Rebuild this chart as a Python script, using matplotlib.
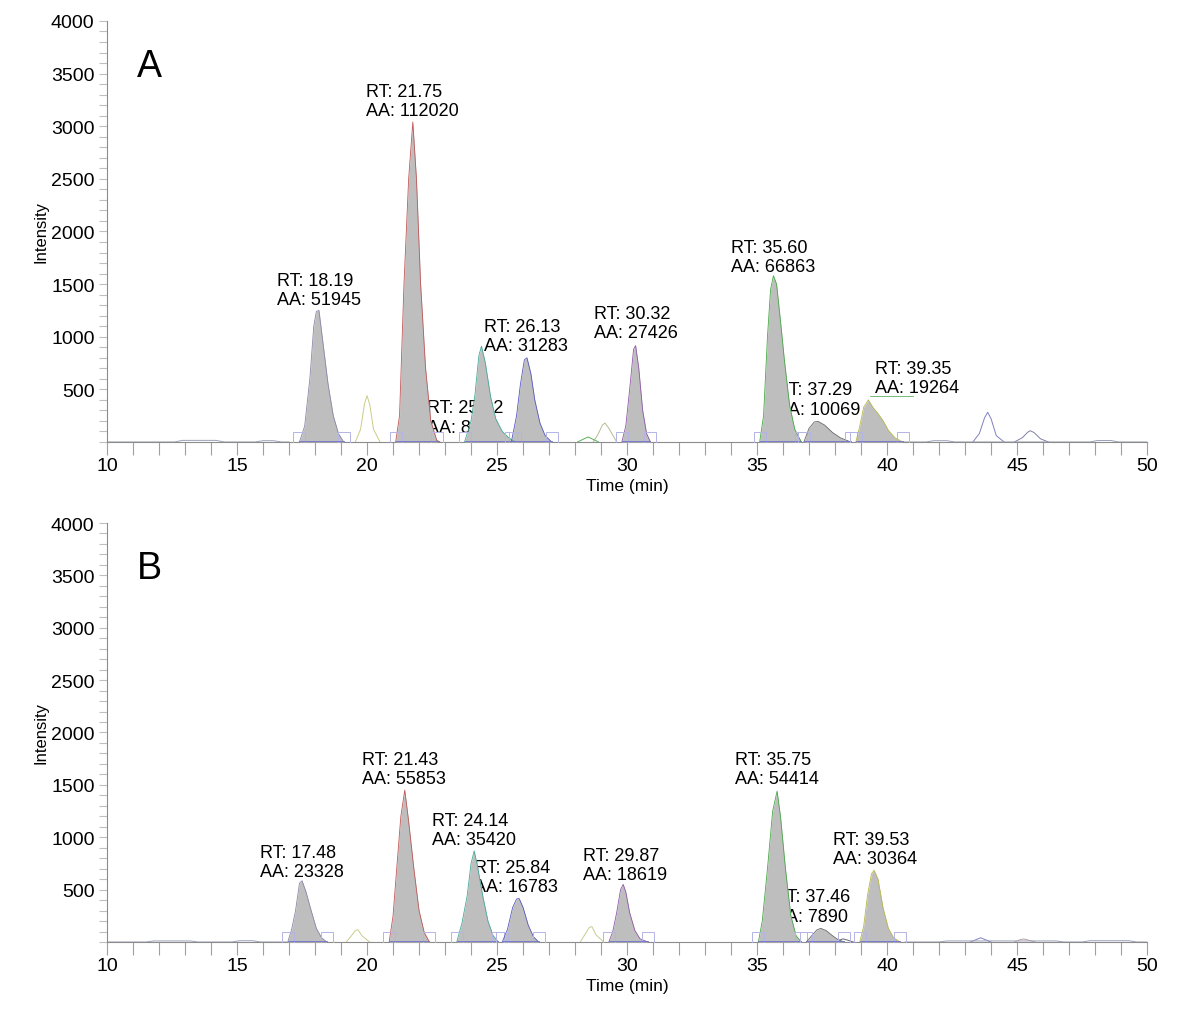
import matplotlib
matplotlib.use("Agg")
import matplotlib.pyplot as plt
from matplotlib.ticker import MultipleLocator, FixedLocator

plt.rcParams['font.family'] = ['Liberation Sans', 'DejaVu Sans']

# ---- panel A : integrated (filled) peaks -------------------------------
a_peak_t = [
    [17.4, 17.6, 17.8, 17.95, 18.05, 18.15, 18.3, 18.5, 18.7, 18.9, 19.1],
    [21.1, 21.25, 21.42, 21.6, 21.76, 21.9, 22.06, 22.25, 22.45, 22.7],
    [23.75, 24.0, 24.15, 24.3, 24.4, 24.55, 24.75, 24.95, 25.2, 25.45, 25.7],
    [25.55, 25.75, 25.9, 26.05, 26.15, 26.3, 26.45, 26.65, 26.85, 27.1],
    [29.8, 29.95, 30.1, 30.25, 30.33, 30.45, 30.6, 30.75, 30.9],
    [35.1, 35.25, 35.4, 35.52, 35.63, 35.75, 35.9, 36.05, 36.25, 36.45, 36.7],
    [36.8, 37.0, 37.2, 37.35, 37.6, 37.9, 38.2, 38.6],
    [38.8, 38.95, 39.1, 39.28, 39.45, 39.65, 39.85, 40.05, 40.3, 40.6],
]
a_peak_i = [
    [0, 150, 600, 1100, 1240, 1250, 950, 550, 250, 80, 0],
    [0, 250, 1500, 2500, 3040, 2500, 1500, 700, 200, 0],
    [0, 200, 450, 820, 910, 750, 430, 220, 100, 40, 0],
    [0, 250, 550, 780, 800, 650, 400, 180, 60, 0],
    [0, 150, 500, 880, 915, 700, 300, 80, 0],
    [0, 250, 1000, 1450, 1580, 1500, 1150, 780, 350, 120, 0],
    [0, 130, 190, 195, 160, 90, 40, 0],
    [0, 150, 330, 400, 330, 270, 200, 110, 40, 0],
]
a_peak_col = ['#8888aa', '#c05858', '#48a898', '#5858c0', '#9058a8',
              '#48a848', '#686868', '#b8b848']
a_labels = ['RT: 18.19\nAA: 51945', 'RT: 21.75\nAA: 112020',
            'RT: 25.02\nAA: 8421', 'RT: 26.13\nAA: 31283',
            'RT: 30.32\nAA: 27426', 'RT: 35.60\nAA: 66863',
            'RT: 37.29\nAA: 10069', 'RT: 39.35\nAA: 19264']
a_label_t = [16.54, 19.96, 22.31, 24.50, 28.73, 34.00, 35.73, 39.54]
a_label_i = [1444, 3240, 233, 1007, 1131, 1758, 404, 608]

# ---- panel A : other traces (not integrated) ---------------------------
a_trace_t = [
    [19.55, 19.75, 19.9, 20.0, 20.1, 20.25, 20.5],
    [28.7, 28.9, 29.05, 29.15, 29.3, 29.6],
    [35.8, 35.95, 36.1, 36.2, 36.35, 36.7],
    [21.5, 21.75, 21.95, 22.06, 22.2, 22.45, 22.8],
    [28.1, 28.35, 28.5, 28.65, 28.9],
    [43.3, 43.55, 43.75, 43.87, 44.0, 44.2, 44.5],
    [44.9, 45.2, 45.4, 45.5, 45.65, 45.9, 46.2],
    [10.0, 12.6, 12.9, 14.2, 14.5, 15.7, 16.0, 16.4, 16.7, 17.0],
    [40.6, 41.5, 41.8, 42.3, 42.6, 47.8, 48.1, 48.6, 48.9, 50.0],
]
a_trace_i = [
    [0, 120, 360, 440, 360, 120, 0],
    [0, 80, 160, 180, 130, 0],
    [0, 90, 190, 210, 140, 0],
    [0, 60, 130, 165, 120, 40, 0],
    [0, 30, 47, 30, 0],
    [0, 80, 230, 282, 220, 60, 0],
    [0, 40, 90, 107, 90, 30, 0],
    [0, 0, 15, 15, 0, 0, 12, 12, 0, 0],
    [0, 0, 12, 12, 0, 0, 14, 14, 0, 0],
]
a_trace_col = ['#cccc88', '#b8bc90', '#9aa860', '#606060', '#58b058',
               '#8080c0', '#8080a8', '#9aa0b8', '#9aa0b8']
a_conn_t = [39.35, 41.0]
a_conn_i = [440, 440]

# ---- panel B : integrated (filled) peaks -------------------------------
b_peak_t = [
    [16.95, 17.1, 17.25, 17.4, 17.5, 17.65, 17.85, 18.05, 18.25, 18.45],
    [20.85, 21.0, 21.15, 21.3, 21.45, 21.6, 21.8, 22.0, 22.2, 22.4],
    [23.45, 23.65, 23.85, 24.0, 24.12, 24.25, 24.45, 24.65, 24.85, 25.05],
    [25.2, 25.4, 25.6, 25.75, 25.85, 26.0, 26.2, 26.4, 26.6],
    [29.3, 29.45, 29.6, 29.75, 29.85, 29.95, 30.1, 30.3, 30.5, 30.8],
    [35.05, 35.2, 35.4, 35.6, 35.77, 35.9, 36.1, 36.3, 36.5, 36.7],
    [36.9, 37.1, 37.3, 37.45, 37.65, 37.9, 38.1, 38.35],
    [38.95, 39.1, 39.25, 39.4, 39.5, 39.65, 39.85, 40.05, 40.25, 40.5],
]
b_peak_i = [
    [0, 120, 300, 560, 585, 480, 300, 130, 40, 0],
    [0, 250, 730, 1200, 1450, 1150, 700, 300, 90, 0],
    [0, 180, 440, 750, 870, 720, 440, 200, 60, 0],
    [0, 120, 330, 410, 415, 330, 160, 50, 0],
    [0, 100, 280, 500, 550, 480, 280, 110, 30, 0],
    [0, 200, 700, 1250, 1440, 1200, 680, 250, 60, 0],
    [0, 60, 115, 130, 110, 60, 25, 0],
    [0, 150, 450, 650, 685, 600, 320, 130, 40, 0],
]
b_peak_col = ['#8888aa', '#c05858', '#48a898', '#5858c0', '#9058a8',
              '#48a848', '#686868', '#b8b848']
b_labels = ['RT: 17.48\nAA: 23328', 'RT: 21.43\nAA: 55853',
            'RT: 24.14\nAA: 35420', 'RT: 25.84\nAA: 16783',
            'RT: 29.87\nAA: 18619', 'RT: 35.75\nAA: 54414',
            'RT: 37.46\nAA: 7890', 'RT: 39.53\nAA: 30364']
b_label_t = [15.88, 19.80, 22.50, 24.12, 28.31, 34.15, 35.65, 37.92]
b_label_i = [763, 1651, 1069, 620, 735, 1651, 339, 887]

# ---- panel B : other traces -------------------------------------------
b_trace_t = [
    [19.2, 19.4, 19.55, 19.65, 19.8, 20.1],
    [28.2, 28.4, 28.55, 28.65, 28.8, 29.1],
    [21.4, 21.6, 21.78, 21.95, 22.2],
    [35.9, 36.05, 36.17, 36.3, 36.5],
    [38.0, 38.2, 38.3, 38.45, 38.7],
    [43.2, 43.45, 43.6, 43.75, 44.0],
    [44.9, 45.1, 45.25, 45.4, 45.7],
    [10.0, 11.5, 11.8, 13.2, 13.5, 14.8, 15.1, 15.6, 15.9, 16.9],
    [40.7, 42.0, 42.3, 46.5, 46.8, 47.5, 47.8, 49.3, 49.6, 50.0],
]
b_trace_i = [
    [0, 60, 110, 117, 60, 0],
    [0, 80, 140, 146, 70, 0],
    [0, 40, 67, 40, 0],
    [0, 45, 67, 45, 0],
    [0, 20, 30, 20, 0],
    [0, 25, 40, 25, 0],
    [0, 20, 29, 20, 0],
    [0, 0, 10, 10, 0, 0, 12, 12, 0, 0],
    [0, 0, 10, 10, 0, 0, 12, 12, 0, 0],
]
b_trace_col = ['#cccc88', '#c8cc90', '#707070', '#9aa860', '#686868',
               '#8080c0', '#b8a0a0', '#9aa0b8', '#9aa0b8']

FILL = '#bebebe'
AXC = '#8c8c8c'


def draw_panel(ax, peak_t, peak_i, peak_col, labels, lab_t, lab_i,
               trace_t, trace_i, trace_col, letter):
    for t, i, c in zip(trace_t, trace_i, trace_col):
        ax.plot(t, i, color=c, lw=0.7, zorder=2)
    for t, i, c in zip(peak_t, peak_i, peak_col):
        ax.fill_between(t, i, 0, color=FILL, lw=0, zorder=3)
        ax.plot(t, i, color=c, lw=0.6, zorder=4)
        # integration start / end markers
        ax.plot([t[0], t[-1]], [35, 35], ls='None', marker='s', ms=8,
                mfc='none', mec='#b4b4e6', mew=0.7, zorder=4)
        ax.plot([t[0], t[-1]], [12, 12], color='#7070d0', lw=0.6, zorder=4)
    for s, x, y in zip(labels, lab_t, lab_i):
        ax.text(x, y, s, ha='left', va='center', fontsize=13,
                linespacing=1.2, zorder=1)
    ax.text(0.029, 0.893, letter, transform=ax.transAxes, fontsize=27,
            ha='left', va='center')

    ax.set_xlim(10, 50)
    ax.set_ylim(0, 4000)
    ax.xaxis.set_major_locator(MultipleLocator(5))
    ax.xaxis.set_minor_locator(MultipleLocator(1))
    ax.yaxis.set_major_locator(FixedLocator(range(500, 4001, 500)))
    ax.yaxis.set_minor_locator(MultipleLocator(100))
    for sp in ['top', 'right']:
        ax.spines[sp].set_visible(False)
    for sp in ['left', 'bottom']:
        ax.spines[sp].set_color(AXC)
        ax.spines[sp].set_linewidth(0.8)
    ax.tick_params(axis='x', which='both', length=9, color='#a0a0a0',
                   width=0.8, labelsize=14, pad=2)
    ax.tick_params(axis='y', which='both', length=6, color='#c0c0c0',
                   width=0.8, labelsize=14, pad=3)
    ax.set_xlabel('Time (min)', fontsize=12.5, labelpad=3)
    ax.set_ylabel('Intensity', fontsize=12, labelpad=2)


fig = plt.figure(figsize=(12, 10.12), dpi=100)
ax_a = fig.add_axes([0.0892, 0.5623, 0.8667, 0.416])
ax_b = fig.add_axes([0.0892, 0.0682, 0.8667, 0.414])

draw_panel(ax_a, a_peak_t, a_peak_i, a_peak_col, a_labels, a_label_t,
           a_label_i, a_trace_t, a_trace_i, a_trace_col, 'A')
ax_a.plot(a_conn_t, a_conn_i, color='#60b060', lw=0.6, zorder=4)
draw_panel(ax_b, b_peak_t, b_peak_i, b_peak_col, b_labels, b_label_t,
           b_label_i, b_trace_t, b_trace_i, b_trace_col, 'B')

fig.savefig('out.png', dpi=100)
